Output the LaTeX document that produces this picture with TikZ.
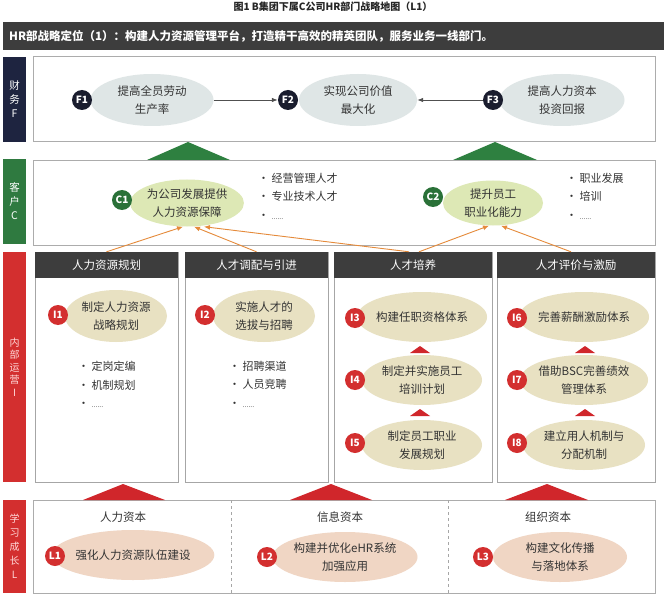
\documentclass[tikz,border=0pt]{standalone}
\usepackage{fontspec}
\setmainfont{Noto Sans CJK SC}
\usetikzlibrary{arrows.meta,shapes.geometric}
\definecolor{navy}{HTML}{1E2440}
\definecolor{fcirc}{HTML}{1A1D2E}
\definecolor{glab}{HTML}{2F7A40}
\definecolor{gcirc}{HTML}{2A7138}
\definecolor{redc}{HTML}{D32F2F}
\definecolor{hdrgray}{HTML}{3D3D3D}
\definecolor{fell}{HTML}{DFE6E6}
\definecolor{cell}{HTML}{DDE8B5}
\definecolor{iell}{HTML}{E8E1C2}
\definecolor{lell}{HTML}{F0D6C4}
\definecolor{orangel}{HTML}{E58A3A}
\definecolor{gtri}{HTML}{2E8040}
\definecolor{rtri}{HTML}{D0262B}
\definecolor{txt}{HTML}{333333}
\begin{document}
\begin{tikzpicture}[x=1pt,y=-1pt,
  rowlabel/.style={fill=#1, minimum width=23, inner sep=0, align=center, text=white,
    font=\fontsize{10.5}{14}\selectfont},
  rowbox/.style={draw=gray!65, line width=0.8, fill=white, inner sep=0, minimum width=622},
  colbox/.style={draw=gray!70, line width=0.8, fill=white, inner sep=0},
  colhdr/.style={fill=hdrgray, text=white, inner sep=0, minimum height=26,
    font=\fontsize{11.5}{14}\selectfont},
  ell/.style={ellipse, fill=#1, inner sep=0, align=center, text=txt,
    font=\fontsize{11.5}{18}\selectfont},
  badge/.style={circle, fill=#1, minimum size=20, inner sep=0, text=white,
    font=\bfseries\fontsize{10}{10}\selectfont},
  bul/.style={anchor=north west, align=left, inner sep=0, text=txt,
    font=\fontsize{11}{18.5}\selectfont},
  farr/.style={draw=hdrgray!90, line width=0.8, -{Latex[length=6pt,width=4.5pt]}},
  oarr/.style={draw=orangel, line width=0.9, -{Latex[length=6pt,width=5pt]}},
  sectitle/.style={inner sep=0, text=txt, font=\fontsize{11.5}{14}\selectfont}
]
\useasboundingbox[fill=white] (0,0) rectangle (666,604);

% title and header bar
\node[font=\bfseries\fontsize{10}{12}\selectfont, text=black!85] (title) at (333,7) {图1 B集团下属C公司HR部门战略地图（L1）};
\node[fill=hdrgray, text=white, anchor=west, text width=649, inner xsep=6, inner ysep=0,
  minimum height=28, align=left, font=\bfseries\fontsize{11.5}{14}\selectfont] (hr) at (3,36)
  {HR部战略定位（1）：构建人力资源管理平台，打造精干高效的精英团队，服务业务一线部门。};

% row labels
\node[rowlabel=navy, minimum height=85] (lf) at (14.5,99.5) {财\\务\\F};
\node[rowlabel=glab, minimum height=85] (lc) at (14.5,201.5) {客\\户\\C};
\node[rowlabel=redc, minimum height=230, text=red!15, font=\fontsize{10}{12.5}\selectfont] (li) at (14.5,367) {内\\部\\运\\营\\I};
\node[rowlabel=redc, minimum height=93, text=red!15, font=\fontsize{10}{14}\selectfont] (ll) at (14.5,546.5) {学\\习\\成\\长\\L};

% row boxes
\node[rowbox, minimum height=85] (rf) at (344,98.5) {};
\node[rowbox, minimum height=85] (rc) at (344,202.5) {};
\node[rowbox, minimum height=93] (rl) at (344,546.5) {};
\draw[gray!70, dashed, line width=0.8] (231,500) -- (231,593);
\draw[gray!70, dashed, line width=0.8] (448,500) -- (448,593);

% internal columns
\node[colbox, minimum width=143, minimum height=230] (k1) at (106.5,367) {};
\node[colbox, minimum width=143, minimum height=230] (k2) at (256.5,367) {};
\node[colbox, minimum width=158, minimum height=230] (k3) at (413,367) {};
\node[colbox, minimum width=158, minimum height=230] (k4) at (576,367) {};
\node[colhdr, minimum width=143] (h1) at (106.5,265) {人力资源规划};
\node[colhdr, minimum width=143] (h2) at (256.5,265) {人才调配与引进};
\node[colhdr, minimum width=158] (h3) at (413,265) {人才培养};
\node[colhdr, minimum width=158] (h4) at (576,265) {人才评价与激励};

% big triangles
\fill[gtri] (188,142) -- (230,160) -- (147,160) -- cycle;
\fill[gtri] (495,142) -- (537,160) -- (453,160) -- cycle;
\fill[rtri] (123,484) -- (165,500) -- (83,500) -- cycle;
\fill[rtri] (331,484) -- (372,500) -- (290,500) -- cycle;
\fill[rtri] (547,484) -- (588,500) -- (505,500) -- cycle;

% small triangles inside columns
\fill[rtri] (420,346) -- (430,353) -- (410,353) -- cycle;
\fill[rtri] (420,409) -- (430,416) -- (410,416) -- cycle;
\fill[rtri] (585,346) -- (595,353) -- (575,353) -- cycle;
\fill[rtri] (585,409) -- (595,416) -- (575,416) -- cycle;

% finance
\node[ell=fell, minimum width=123, minimum height=52] (f1e) at (152,100) {提高全员劳动\\生产率};
\node[ell=fell, minimum width=118, minimum height=52] (f2e) at (358,100) {实现公司价值\\最大化};
\node[ell=fell, minimum width=125, minimum height=52] (f3e) at (562,100) {提高人力资本\\投资回报};
\node[badge=fcirc] (f1c) at (82,100) {F1};
\node[badge=fcirc] (f2c) at (288,100) {F2};
\node[badge=fcirc] (f3c) at (493,100) {F3};
\draw[farr] (f1e.east) -- (f2c.west);
\draw[farr] (f3c.west) -- (f2e.east);

% customer
\node[ell=cell, minimum width=107, minimum height=47] (c1e) at (187,203) {为公司发展提供\\人力资源保障};
\node[ell=cell, minimum width=100, minimum height=45] (c2e) at (493,203) {提升员工\\职业化能力};
\node[badge=gcirc] (c1c) at (122,200) {C1};
\node[badge=gcirc] (c2c) at (433,197) {C2};
\node[bul] (cb1) at (258,173) {· 经营管理人才\\· 专业技术人才\\· {\fontsize{7}{18.5}\selectfont ......}};
\node[bul] (cb2) at (566,173) {· 职业发展\\· 培训\\· {\fontsize{7}{18.5}\selectfont ......}};

% orange arrows
\draw[oarr] (h1.north) -- ([xshift=-4]c1e.south);
\draw[oarr] (h2.north) -- ([xshift=7]c1e.south);
\draw[oarr] ([xshift=-4]h3.north) -- ([xshift=17]c1e.south);
\draw[oarr] ([xshift=6]h3.north) -- ([xshift=-4]c2e.south);
\draw[oarr] ([xshift=-5]h4.north) -- ([xshift=8]c2e.south);

% internal ellipses
\node[ell=iell, minimum width=102, minimum height=52] (i1e) at (116,316) {制定人力资源\\战略规划};
\node[ell=iell, minimum width=102, minimum height=52] (i2e) at (264,316) {实施人才的\\选拔与招聘};
\node[ell=iell, minimum width=120, minimum height=50] (i3e) at (422,317) {构建任职资格体系};
\node[ell=iell, minimum width=120, minimum height=50] (i4e) at (422,380) {制定并实施员工\\培训计划};
\node[ell=iell, minimum width=120, minimum height=50] (i5e) at (422,445) {制定员工职业\\发展规划};
\node[ell=iell, minimum width=122, minimum height=50] (i6e) at (584,317) {完善薪酬激励体系};
\node[ell=iell, minimum width=122, minimum height=50] (i7e) at (584,380) {借助BSC完善绩效\\管理体系};
\node[ell=iell, minimum width=122, minimum height=50] (i8e) at (584,445) {建立用人机制与\\分配机制};
\node[badge=redc] (i1c) at (58,315) {I1};
\node[badge=redc] (i2c) at (205,315) {I2};
\node[badge=redc] (i3c) at (355,318) {I3};
\node[badge=redc] (i4c) at (355,380) {I4};
\node[badge=redc] (i5c) at (355,443) {I5};
\node[badge=redc] (i6c) at (517,318) {I6};
\node[badge=redc] (i7c) at (517,380) {I7};
\node[badge=redc] (i8c) at (517,443) {I8};
\node[bul] (ib1) at (78,361) {· 定岗定编\\· 机制规划\\· {\fontsize{7}{18.5}\selectfont ......}};
\node[bul] (ib2) at (229,361) {· 招聘渠道\\· 人员竞聘\\· {\fontsize{7}{18.5}\selectfont ......}};

% learning
\node[sectitle] (t1) at (123,517) {人力资本};
\node[sectitle] (t2) at (340,517) {信息资本};
\node[sectitle] (t3) at (548,517) {组织资本};
\node[ell=lell, minimum width=137, minimum height=50] (l1e) at (133,555) {强化人力资源队伍建设};
\node[ell=lell, minimum width=135, minimum height=50] (l2e) at (345,557) {构建并优化eHR系统\\加强应用};
\node[ell=lell, minimum width=134, minimum height=50] (l3e) at (560,557) {构建文化传播\\与落地体系};
\node[badge=redc] (l1c) at (55,556) {L1};
\node[badge=redc] (l2c) at (267,557) {L2};
\node[badge=redc] (l3c) at (483,557) {L3};
\end{tikzpicture}
\end{document}
